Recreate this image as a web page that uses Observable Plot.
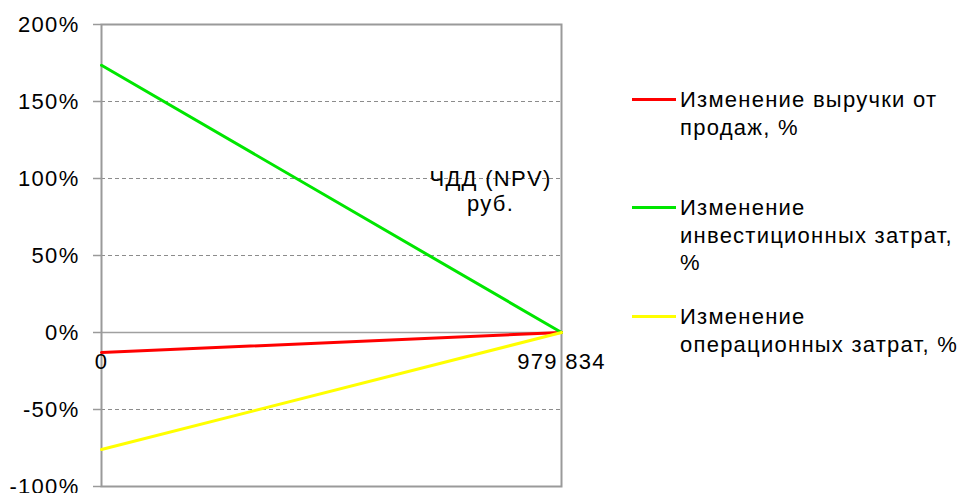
<!DOCTYPE html>
<html><head><meta charset="utf-8">
<script src="https://cdn.jsdelivr.net/npm/d3@7"></script>
<script src="https://cdn.jsdelivr.net/npm/@observablehq/plot@0.6"></script>
<style>
body{margin:0;background:#fff;font-family:"Liberation Sans",Arial,sans-serif;}
#wrap{position:relative;width:962px;height:493px;overflow:hidden;}
#legend{position:absolute;left:0;top:0;width:962px;height:493px;pointer-events:none;}
.item{position:absolute;left:632px;display:flex;align-items:flex-start;}
.sw{width:44px;height:3px;margin-top:12px;flex:none;}
.lbl{margin-left:4px;font-size:22px;line-height:27.5px;letter-spacing:1.25px;white-space:pre;color:#000;}
</style>
</head><body>
<div id="wrap"><div id="chart"></div><div id="legend"></div></div>
<script>
// Data
const npvTicks = [0, 979834];
const npvTickLabels = ["0", "979 834"];
const yTicks = [-100, -50, 0, 50, 100, 150, 200];
const seriesNames = ["Изменение выручки от\nпродаж, %", "Изменение\nинвестиционных затрат,\n%", "Изменение\nоперационных затрат, %"];
const seriesColors = ["#ff0000", "#00e600", "#ffff00"];
const revenueChange = [-13, 0];
const investChange = [173.5, 0];
const opexChange = [-76, 0];
const axisTitle = "ЧДД (NPV)\nруб.";

const rows = [];
[revenueChange, investChange, opexChange].forEach((vals, s) => {
  vals.forEach((v, i) => rows.push({series: seriesNames[s], x: npvTicks[i], y: v}));
});

const chart = Plot.plot({
  width: 962, height: 493,
  marginLeft: 101, marginRight: 401, marginTop: 24, marginBottom: 7,
  x: {domain: [0, 979834], axis: null},
  y: {domain: [-100, 200], axis: null},
  color: {domain: seriesNames, range: seriesColors},
  style: {fontFamily: "'Liberation Sans', Arial, sans-serif", fontSize: "22px", color: "#000", background: "#fff", letterSpacing: "1.3px"},
  marks: [
    Plot.ruleY(yTicks.filter(d => d !== 0 && d !== 200 && d !== -100), {stroke: "#8c8c8c", strokeDasharray: "4,3", strokeWidth: 1}),
    Plot.ruleY([0], {stroke: "#a0a0a0", strokeWidth: 1.5}),
    Plot.frame({stroke: "#9a9a9a", strokeWidth: 2}),
    Plot.axisY(yTicks, {label: null, tickSize: 8, tickPadding: 14, tickFormat: d => d + "%", fontSize: 22, stroke: "#9a9a9a", strokeWidth: 1.5}),
    Plot.line(rows, {x: "x", y: "y", z: "series", stroke: "series", strokeWidth: 3}),
    Plot.text(npvTicks, {x: d => d, y: () => 0, text: (d, i) => npvTickLabels[i], dy: 29, fontSize: 22, fill: "#000"}),
    Plot.text([axisTitle], {frameAnchor: "top-right", dx: -71, dy: 166, textAnchor: "middle", lineAnchor: "middle", lineHeight: 1.14, fontSize: 22, fill: "#000"})
  ]
});
document.getElementById("chart").appendChild(chart);

const tops = [86, 194, 303];
const legend = document.getElementById("legend");
seriesNames.forEach((name, i) => {
  const it = document.createElement("div");
  it.className = "item";
  it.style.top = tops[i] + "px";
  const sw = document.createElement("div");
  sw.className = "sw";
  sw.style.background = seriesColors[i];
  const lb = document.createElement("div");
  lb.className = "lbl";
  lb.textContent = name;
  it.appendChild(sw); it.appendChild(lb);
  legend.appendChild(it);
});
</script>
</body></html>
